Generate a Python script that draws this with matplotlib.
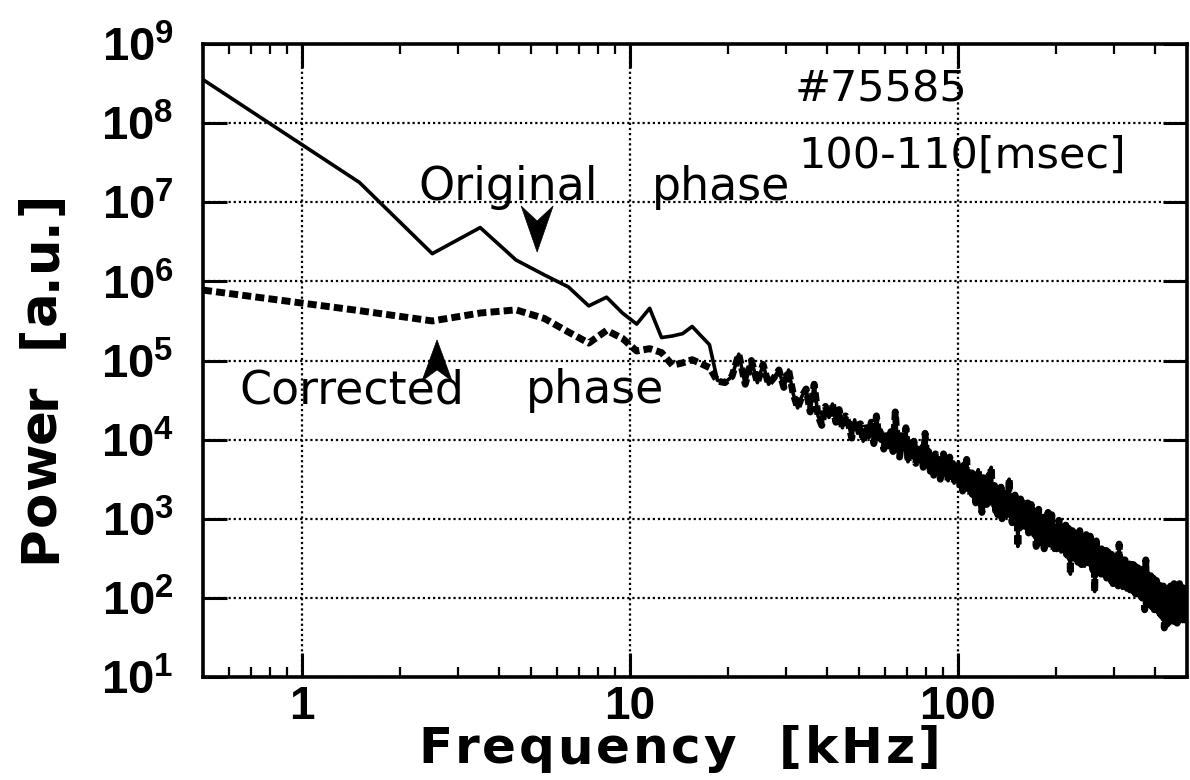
import numpy as np
import matplotlib
matplotlib.use("Agg")
import matplotlib.pyplot as plt
from matplotlib.ticker import FixedLocator, FuncFormatter, NullLocator, NullFormatter, LogLocator
from matplotlib.font_manager import FontProperties, findfont
from matplotlib.ft2font import FT2Font
from matplotlib.patches import Polygon
from matplotlib.transforms import Affine2D

# ---------------------------------------------------------------------------
# Power spectra (log10 of power, a.u.), one value per 1 kHz FFT bin
# (10 ms window, bins centred at 0.5, 1.5, 2.5, ... kHz)
# ---------------------------------------------------------------------------
original_low_log = [8.55, 7.25, 6.35, 6.68, 6.27, 6.08, 5.93, 5.69, 5.80, 5.60,
                    5.46, 5.66, 5.29, 5.31, 5.34, 5.43, 5.31, 5.20, 4.75]
corrected_low_log = [5.89, 5.63, 5.50, 5.60, 5.64, 5.53, 5.36, 5.22, 5.38, 5.28,
                     5.12, 5.15, 5.10, 4.94, 4.97, 5.01, 4.96, 4.91, 4.74]

# above ~19 kHz both phase treatments give the same spectrum
common_high_log = [
    4.72, 4.80, 5.08, 4.70, 5.00, 4.72, 4.95, 4.70, 4.78, 4.88, 4.66,
    4.88, 4.58, 4.40, 4.55, 4.64, 4.35, 4.70, 4.30, 4.18, 4.42,
    4.28, 4.45, 4.22, 4.38, 4.15, 4.30, 4.20, 4.02, 4.25, 4.08,
    4.20, 3.98, 4.15, 4.05, 4.22, 3.95, 4.30, 4.02, 4.12, 3.88,
    4.05, 3.92, 4.10, 3.85, 4.35, 3.95, 3.78, 4.05, 3.88, 4.15,
    3.72, 3.95, 3.80, 3.98, 3.70, 3.88, 3.75, 3.92, 3.65, 4.08,
    3.72, 3.85, 3.60, 3.78, 3.55, 3.82, 3.62, 3.75, 3.50, 3.70,
    3.82, 3.55, 3.68, 3.48, 3.78, 3.58, 3.70, 3.45, 3.62, 3.52,
    3.72, 3.40, 3.60, 3.35, 3.68, 3.48, 3.75, 3.38, 3.55, 3.30,
    3.58, 3.30, 3.50, 3.20, 3.45, 3.62, 3.28, 3.40, 3.08, 3.52,
    3.25, 3.48, 3.18, 3.40, 3.55, 3.22, 3.65, 3.30, 3.15, 3.42,
    3.10, 3.35, 3.05, 3.30, 3.18, 3.40, 3.00, 3.25, 3.12, 3.32,
    3.02, 3.28, 3.10, 3.50, 3.05, 3.22, 2.95, 3.18, 3.08, 3.30,
    2.92, 3.20, 2.65, 3.15, 2.98, 3.25, 2.90, 3.10, 3.00, 3.22,
    2.88, 3.15, 2.95, 3.20, 2.82, 3.05, 2.92, 3.18, 2.85, 3.00,
    3.10, 2.80, 2.98, 2.65, 3.05, 2.85, 3.12, 2.78, 2.95, 2.70,
    3.02, 2.75, 2.90, 2.62, 3.05, 2.80, 2.95, 2.70, 3.08, 2.82,
    2.68, 2.95, 2.75, 3.05, 2.70, 2.88, 2.60, 2.92, 2.78, 2.85,
    2.62, 2.90, 2.70, 2.98, 2.65, 2.85, 2.58, 2.80, 2.72, 2.92,
    2.58, 2.85, 2.65, 2.92, 2.55, 2.78, 2.62, 2.88, 2.48, 2.80,
    2.30, 2.75, 2.55, 2.85, 2.62, 2.78, 2.50, 2.82, 2.60, 2.72,
    2.52, 2.78, 2.45, 2.70, 2.58, 2.85, 2.50, 2.72, 2.42, 2.68,
    2.75, 2.48, 2.68, 2.40, 2.72, 2.55, 2.80, 2.45, 2.65, 2.52,
    2.42, 2.70, 2.50, 2.78, 2.38, 2.65, 2.48, 2.72, 2.35, 2.62,
    2.68, 2.08, 2.60, 2.45, 2.72, 2.38, 2.58, 2.42, 2.65, 2.35,
    2.60, 2.35, 2.55, 2.30, 2.62, 2.40, 2.52, 2.28, 2.58, 2.42,
    2.30, 2.55, 2.38, 2.60, 2.25, 2.50, 2.35, 2.58, 2.32, 2.48,
    2.52, 2.28, 2.45, 2.22, 2.55, 2.35, 2.48, 2.18, 2.50, 2.32,
    2.25, 2.48, 2.30, 2.55, 2.20, 2.45, 2.28, 2.52, 2.15, 2.42,
    2.68, 2.22, 2.45, 2.18, 2.50, 2.28, 2.42, 2.12, 2.48, 2.25,
    2.20, 2.42, 2.15, 2.48, 2.25, 2.40, 2.10, 2.45, 2.22, 2.38,
    2.40, 2.12, 2.35, 2.18, 2.45, 2.10, 2.38, 2.20, 2.42, 2.15,
    2.12, 2.38, 2.18, 2.42, 2.08, 2.35, 2.15, 2.40, 2.05, 2.32,
    2.35, 2.10, 2.30, 2.05, 2.38, 2.15, 2.32, 2.02, 2.35, 2.12,
    2.05, 2.32, 2.12, 2.38, 2.00, 2.28, 2.10, 2.35, 1.98, 2.25,
    2.30, 1.85, 2.25, 2.05, 2.48, 2.08, 2.22, 1.95, 2.28, 2.05,
    2.00, 2.25, 1.92, 2.30, 2.02, 2.22, 1.88, 2.28, 2.05, 2.20,
    2.22, 1.95, 2.18, 1.88, 2.25, 2.00, 2.20, 1.85, 2.15, 1.98,
    1.92, 2.18, 1.85, 2.22, 1.98, 2.15, 1.82, 2.20, 1.95, 2.12,
    2.15, 1.88, 2.10, 1.80, 2.18, 1.92, 2.12, 1.78, 2.08, 1.95,
    1.85, 2.12, 1.90, 2.15, 1.75, 2.08, 1.62, 2.10, 1.88, 2.05,
    2.10, 1.82, 2.05, 1.72, 2.12, 1.88, 2.02, 1.65, 2.08, 1.85,
    1.82, 2.10, 1.70, 2.05, 1.88, 2.15, 1.75, 2.02, 1.85, 2.08,
    2.05, 1.78, 2.10, 1.72, 2.00, 1.85, 2.18, 1.70, 2.02, 1.82,
    1.80, 2.08, 1.75, 2.12, 1.85, 2.05, 1.68, 2.10, 1.82, 2.00,
    2.15, 1.78, 2.05, 1.72, 2.18, 1.85, 2.10, 1.75, 2.02, 1.88,
    1.78, 2.08, 1.82, 2.12, 1.70, 2.05, 1.85, 2.15, 1.75, 2.02,
    2.10, 1.80, 2.05, 1.72, 2.12, 1.85, 2.00, 1.78, 2.08, 1.90,
]

x_tick_values = [1, 10, 100]
y_tick_exponents = [1, 2, 3, 4, 5, 6, 7, 8, 9]

shot_label = "#75585"
time_label = "100-110[msec]"

# ---------------------------------------------------------------------------
W, H, DPI = 1190, 780, 100
TICK_FONT = "Liberation Sans"
TITLE_FONT = "DejaVu Sans"
NOTE_FONT = "DejaVu Sans"

plt.rcParams["mathtext.fontset"] = "custom"
plt.rcParams["mathtext.rm"] = "Liberation Sans"
plt.rcParams["mathtext.bf"] = "Liberation Sans:bold"
plt.rcParams["mathtext.it"] = "Liberation Sans:italic"

original = 10.0 ** np.array(original_low_log + common_high_log)
corrected = 10.0 ** np.array(corrected_low_log + common_high_log)
freq_khz = 0.5 + np.arange(original.size)

fig = plt.figure(figsize=(W / DPI, H / DPI), dpi=DPI)
fig.patch.set_facecolor("white")
ax = fig.add_axes([203 / W, 1 - 677 / H, (1187 - 203) / W, (677 - 44) / H])

ax.plot(freq_khz, corrected, color="black", lw=5.0,
        linestyle=(0, (1.3, 0.6)), dash_capstyle="butt", zorder=3)
ax.plot(freq_khz, original, color="black", lw=2.6, zorder=4)

ax.set_xscale("log")
ax.set_yscale("log")
ax.set_xlim(0.5, 500)
ax.set_ylim(10, 1e9)

ax.xaxis.set_major_locator(FixedLocator(x_tick_values))
ax.xaxis.set_minor_locator(LogLocator(base=10, subs=np.arange(2, 10)))
ax.xaxis.set_major_formatter(FuncFormatter(lambda v, p: f"{v:g}"))
ax.xaxis.set_minor_formatter(NullFormatter())

ax.yaxis.set_major_locator(FixedLocator([10.0 ** e for e in y_tick_exponents]))
ax.yaxis.set_minor_locator(NullLocator())
ax.yaxis.set_major_formatter(FuncFormatter(
    lambda v, p: r"$\mathbf{10}^{\mathbf{%d}}$" % int(round(np.log10(v)))))

ax.grid(True, which="major", color="black", linestyle=(0, (1.0, 1.3)), linewidth=1.6)
ax.set_axisbelow(True)

ax.tick_params(which="both", direction="in", top=True, right=True, colors="black")
ax.tick_params(which="major", length=17, width=2.2)
ax.tick_params(which="minor", length=7, width=1.6)
ax.tick_params(axis="x", which="major", pad=6)
ax.tick_params(axis="y", which="major", pad=21)
for lab in ax.get_xticklabels() + ax.get_yticklabels():
    lab.set_fontfamily(TICK_FONT)
    lab.set_fontweight("bold")
    lab.set_fontsize(34)
for lab in ax.get_xticklabels():
    lab.set_fontsize(33)
for sp in ax.spines.values():
    sp.set_linewidth(2.6)
    sp.set_color("black")


def tracked_text(text, start, end, base, size, vertical=False,
                 family=TITLE_FONT, weight="bold"):
    """Draw text letter by letter so that it spans start..end (figure pixels)."""
    prop = FontProperties(family=family, weight=weight, size=size)
    font = FT2Font(findfont(prop))
    font.set_size(size, DPI)
    adv = [font.load_char(ord(c)).linearHoriAdvance / 65536.0 for c in text]
    track = ((end - start) - sum(adv)) / (len(text) - 1)
    pos = start
    for c, a in zip(text, adv):
        if vertical:
            fig.text(base / W, pos / H, c, fontproperties=prop, rotation=90,
                     rotation_mode="anchor", ha="left", va="baseline")
        else:
            fig.text(pos / W, base / H, c, fontproperties=prop,
                     ha="left", va="baseline")
        pos += a + track


# axis titles (figure pixel coordinates, origin bottom-left)
tracked_text("Frequency  [kHz]", 418, 940, H - 763, 36)
tracked_text("Power  [a.u.]", H - 563, H - 192, 55, 37, vertical=True)


def note(x, y, s, size=31):
    fig.text(x / W, 1 - y / H, s, family=NOTE_FONT, fontsize=size,
             ha="left", va="baseline", color="black")


note(795, 102, shot_label)
note(798, 168, time_label)
note(418, 200, "Original", 33)
note(652, 200, "phase", 33)
note(239, 403, "Corrected", 33)
note(526, 403, "phase", 33)


def arrow_head(f, p, pointing_down, half_width=16, height=46, notch=31):
    """Notched arrowhead whose tip sits on the point (f, p) of the data."""
    tx, ty = ax.transData.transform((f, p))
    s = 1 if pointing_down else -1
    verts = [(0, 0), (-half_width, s * height), (0, s * notch), (half_width, s * height)]
    poly = Polygon(verts, closed=True, facecolor="black", edgecolor="black",
                   lw=0.5, transform=Affine2D().translate(tx, ty), clip_on=False)
    fig.add_artist(poly)


arrow_head(5.22, 2.35e6, True)
arrow_head(2.585, 1.82e5, False, half_width=15, height=41, notch=30)

fig.savefig("out.png", dpi=DPI, facecolor="white")
